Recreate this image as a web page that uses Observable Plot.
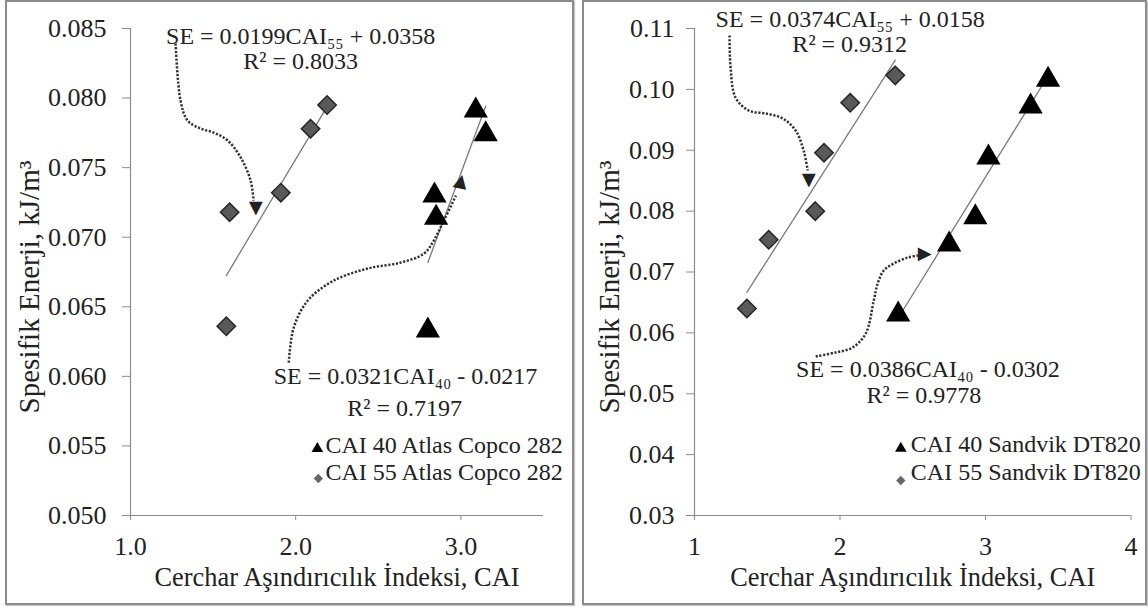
<!DOCTYPE html>
<html>
<head>
<meta charset="utf-8">
<script src="https://cdn.jsdelivr.net/npm/d3@7"></script>
<script src="https://cdn.jsdelivr.net/npm/@observablehq/plot@0.6"></script>
<style>
  body { margin: 0; background: #fff; width: 1148px; height: 608px; overflow: hidden; position: relative; }
  .panel { position: absolute; top: 0; height: 601px; border: 2px solid #8c8c8c; background: #fff; box-shadow: 1px 1px 1px #c8c8c8; }
  #left { left: 5px; width: 565px; }
  #right { left: 582px; width: 561px; }
  .panel svg { display: block; }
  .panel svg [aria-label*="axis"] text { font-family: 'Liberation Serif', 'Times New Roman', serif; font-size: 26px; }
  [aria-label="x-axis tick"], [aria-label="y-axis tick"] { color: #8c8c8c; }
  [aria-label="x-axis"] .tick line, [aria-label="y-axis"] .tick line { stroke: #8c8c8c; }
</style>
</head>
<body>
<div id="left" class="panel"></div>
<div id="right" class="panel"></div>
<script>
// Atlas Copco 282 — Cerchar index (CAI) vs specific energy (kJ/m³)
const acCai40X = [2.80, 2.84, 2.85, 3.09, 3.15];
const acCai40Y = [0.0633, 0.0730, 0.0714, 0.0791, 0.0774];
const acCai55X = [1.58, 1.60, 1.91, 2.09, 2.19];
const acCai55Y = [0.0636, 0.0718, 0.0732, 0.0778, 0.0795];

// Sandvik DT820
const sdCai40X = [2.40, 2.75, 2.93, 3.02, 3.31, 3.43];
const sdCai40Y = [0.0630, 0.0745, 0.0790, 0.0888, 0.0972, 0.1016];
const sdCai55X = [1.36, 1.51, 1.83, 1.89, 2.07, 2.38];
const sdCai55Y = [0.0640, 0.0753, 0.0800, 0.0896, 0.0978, 0.1023];

// Linear trend fits shown on the chart
const acFit40 = {slope: 0.0321, intercept: -0.0217, r2: 0.7197};
const acFit55 = {slope: 0.0199, intercept: 0.0358, r2: 0.8033};
const sdFit40 = {slope: 0.0386, intercept: -0.0302, r2: 0.9778};
const sdFit55 = {slope: 0.0374, intercept: 0.0158, r2: 0.9312};

// Axis ticks
const leftXTicks = [1, 2, 3];
const leftYTicks = [0.050, 0.055, 0.060, 0.065, 0.070, 0.075, 0.080, 0.085];
const rightXTicks = [1, 2, 3, 4];
const rightYTicks = [0.03, 0.04, 0.05, 0.06, 0.07, 0.08, 0.09, 0.10, 0.11];

// Labels
const xTitle = "Cerchar Aşındırıcılık İndeksi, CAI";
const yTitle = "Spesifik Enerji, kJ/m³";
const acLegend = ["CAI 40 Atlas Copco 282", "CAI 55 Atlas Copco 282"];
const sdLegend = ["CAI 40 Sandvik DT820", "CAI 55 Sandvik DT820"];

const serif = "'Liberation Serif', 'Times New Roman', serif";
const ink = "#222";
const axisGray = "#8c8c8c";

const eqLabel = (fit, sub) =>
  `SE = ${fit.slope.toFixed(4)}CAI${sub} ${fit.intercept < 0 ? "-" : "+"} ${Math.abs(fit.intercept).toFixed(4)}`;
const r2Label = (fit) => `R² = ${fit.r2.toFixed(4)}`;

function drawPanel(cfg) {
  const pts40 = cfg.x40.map((x, i) => ({x, y: cfg.y40[i]}));
  const pts55 = cfg.x55.map((x, i) => ({x, y: cfg.y55[i]}));
  const fitLine = (fit, xs) => d3.extent(xs).map((x) => ({x, y: fit.slope * x + fit.intercept}));
  const notes = [
    {text: eqLabel(cfg.fit55, "₅₅"), ...cfg.notePos[0]},
    {text: r2Label(cfg.fit55), ...cfg.notePos[1]},
    {text: eqLabel(cfg.fit40, "₄₀"), ...cfg.notePos[2]},
    {text: r2Label(cfg.fit40), ...cfg.notePos[3]}
  ];
  const legendRows = cfg.legend.map((label, i) => ({label, ...cfg.legendPos[i]}));
  const dotted = {x: (d) => d[0], y: (d) => d[1], curve: "catmull-rom", stroke: "#333",
                  strokeWidth: 2.5, strokeDasharray: "2.2,1.6", strokeLinecap: "butt"};

  return Plot.plot({
    width: cfg.width,
    height: 601,
    marginLeft: cfg.marginLeft,
    marginRight: cfg.marginRight,
    marginTop: 26,
    marginBottom: 88,
    style: {fontFamily: serif, fontSize: "24px", color: ink, background: "#fff", overflow: "visible"},
    x: {domain: cfg.xDomain, ticks: cfg.xTicks, tickFormat: d3.format(cfg.xFormat),
        tickSize: 5, tickPadding: 16, label: null},
    y: {domain: cfg.yDomain, ticks: cfg.yTicks, tickFormat: d3.format(cfg.yFormat),
        tickSize: 8, tickPadding: cfg.yPad, label: null},
    marks: [
      Plot.ruleY([cfg.yDomain[0]], {stroke: axisGray, strokeWidth: 1.2}),
      Plot.ruleX([cfg.xDomain[0]], {stroke: axisGray, strokeWidth: 1.2}),
      Plot.line(fitLine(cfg.fit55, cfg.x55), {x: "x", y: "y", stroke: "#7a7a7a", strokeWidth: 1.3}),
      Plot.line(fitLine(cfg.fit40, cfg.x40), {x: "x", y: "y", stroke: "#7a7a7a", strokeWidth: 1.3}),
      ...cfg.arrows.map((path) => Plot.line(path, dotted)),
      Plot.text(cfg.heads, {x: "x", y: "y", rotate: "angle", text: () => "▲", fontSize: 18,
                            fontFamily: "DejaVu Sans", fill: "#222", lineAnchor: "middle"}),
      Plot.dot(pts55, {x: "x", y: "y", symbol: "diamond2", r: 8.3, fill: "#595959", stroke: "#262626", strokeWidth: 1.5}),
      Plot.dot(pts40, {x: "x", y: "y", symbol: "triangle", r: 9, fill: "#000"}),
      Plot.text(notes, {x: "x", y: "y", text: "text", textAnchor: "middle", lineAnchor: "bottom", fill: ink}),
      Plot.dot(legendRows.slice(0, 1), {x: "sx", y: "sy", symbol: "triangle", r: 4.3, fill: "#000"}),
      Plot.dot(legendRows.slice(1), {x: "sx", y: "sy", symbol: "diamond2", r: 4.2, fill: "#666"}),
      Plot.text(legendRows, {x: "tx", y: "ty", text: "label", textAnchor: "start", lineAnchor: "bottom", fill: ink}),
      Plot.text([xTitle], {frameAnchor: "bottom", dy: 70, lineAnchor: "bottom", fontSize: 26.4, fill: ink}),
      Plot.text([yTitle], {frameAnchor: "left", rotate: -90, textAnchor: "middle", lineAnchor: "bottom",
                           dx: -cfg.yTitleGap, dy: 15, fontSize: 29, fill: ink})
    ]
  });
}

document.getElementById("left").append(drawPanel({
  width: 565, marginLeft: 123, marginRight: 29, yPad: 16, yTitleGap: 92,
  xDomain: [1, 3.5], xTicks: leftXTicks, xFormat: ".1f",
  yDomain: [0.05, 0.085], yTicks: leftYTicks, yFormat: ".3f",
  x40: acCai40X, y40: acCai40Y, x55: acCai55X, y55: acCai55Y,
  fit40: acFit40, fit55: acFit55,
  notePos: [{x: 2.03, y: 0.08392}, {x: 2.03, y: 0.08212}, {x: 2.665, y: 0.05948}, {x: 2.66, y: 0.05718}],
  legend: acLegend,
  legendPos: [{sx: 2.131, sy: 0.05481, tx: 2.18, ty: 0.05446}, {sx: 2.137, sy: 0.05266, tx: 2.18, ty: 0.05252}],
  arrows: [
    [[1.273, 0.08392], [1.303, 0.07982], [1.345, 0.07839], [1.424, 0.07781], [1.503, 0.07752],
     [1.588, 0.07695], [1.667, 0.07573], [1.727, 0.07407], [1.745, 0.07263]],
    [[1.958, 0.06099], [1.988, 0.06350], [2.073, 0.06545], [2.230, 0.06688], [2.436, 0.06775],
     [2.636, 0.06818], [2.776, 0.06882], [2.836, 0.06976], [2.897, 0.07120], [2.970, 0.07299]]
  ],
  heads: [{x: 1.758, y: 0.07199, angle: 180}, {x: 3.0, y: 0.07407, angle: 12}]
}));

document.getElementById("right").append(drawPanel({
  width: 561, marginLeft: 110, marginRight: 14.5, yPad: 12, yTitleGap: 76,
  xDomain: [1, 4], xTicks: rightXTicks, xFormat: "d",
  yDomain: [0.03, 0.11], yTicks: rightYTicks, yFormat: ".2f",
  x40: sdCai40X, y40: sdCai40Y, x55: sdCai55X, y55: sdCai55Y,
  fit40: sdFit40, fit55: sdFit55,
  notePos: [{x: 2.07, y: 0.1103}, {x: 2.067, y: 0.10622}, {x: 2.604, y: 0.05267}, {x: 2.576, y: 0.0484}],
  legend: sdLegend,
  legendPos: [{sx: 2.418, sy: 0.04101, tx: 2.487, ty: 0.04035}, {sx: 2.418, sy: 0.03575, tx: 2.487, ty: 0.03575}],
  arrows: [
    [[1.241, 0.10885], [1.248, 0.10359], [1.282, 0.09867], [1.372, 0.09653], [1.489, 0.09604],
     [1.606, 0.09522], [1.695, 0.09325], [1.750, 0.08996], [1.778, 0.08668]],
    [[1.833, 0.05612], [1.970, 0.05678], [2.087, 0.05760], [2.177, 0.05990], [2.232, 0.06532],
     [2.259, 0.06811], [2.301, 0.07025], [2.370, 0.07140], [2.466, 0.07238], [2.535, 0.07271]]
  ],
  heads: [{x: 1.785, y: 0.08487, angle: 180}, {x: 2.59, y: 0.07288, angle: 90}]
}));
</script>
</body>
</html>
